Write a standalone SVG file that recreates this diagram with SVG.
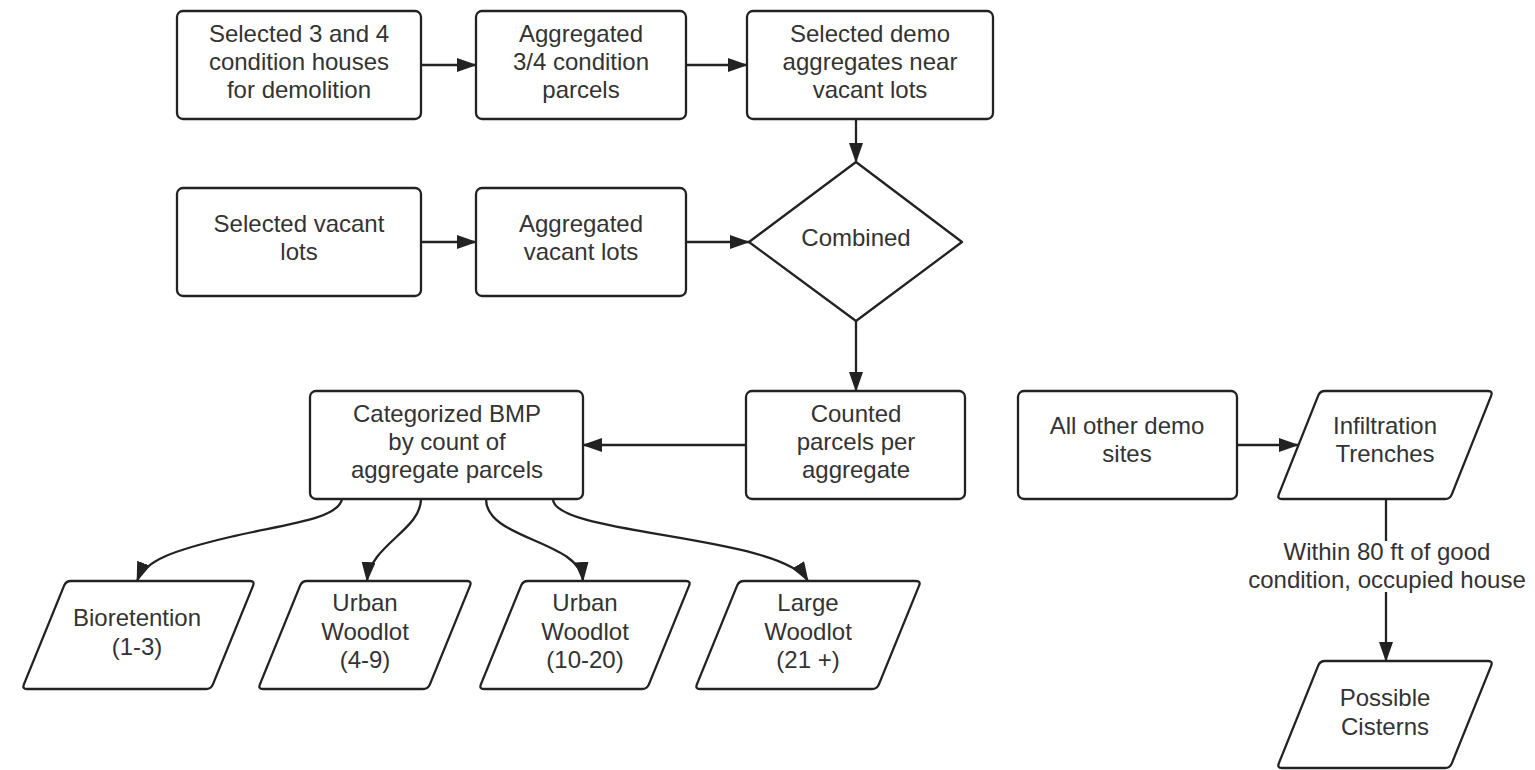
<svg xmlns="http://www.w3.org/2000/svg" width="1535" height="770" viewBox="0 0 1535 770">
<defs>
<marker id="arr" markerUnits="userSpaceOnUse" markerWidth="20" markerHeight="14" refX="19" refY="7" orient="auto">
<path d="M0,0 L20,7 L0,14 z" fill="#222"/>
</marker>
<style>
.n{fill:#fff;stroke:#222;stroke-width:2.3;stroke-linejoin:round}
.t{font-family:"Liberation Sans",Arial,sans-serif;font-size:24px;fill:#333;text-anchor:middle}
.c{fill:none;stroke:#222;stroke-width:2.3;marker-end:url(#arr)}
</style>
</defs>
<rect width="1535" height="770" fill="#fff"/>
<g id="connectors">
<line class="c" x1="421" y1="65" x2="476" y2="65"/>
<line class="c" x1="686" y1="65" x2="747" y2="65"/>
<line class="c" x1="856" y1="119" x2="856" y2="162"/>
<line class="c" x1="421" y1="242" x2="476" y2="242"/>
<line class="c" x1="686" y1="242" x2="749" y2="242"/>
<line class="c" x1="856" y1="321" x2="856" y2="391"/>
<line class="c" x1="746" y1="445" x2="583" y2="445"/>
<line class="c" x1="1237" y1="445" x2="1298" y2="445"/>
<line class="c" x1="1386" y1="499" x2="1386" y2="661"/>
<path class="c" d="M342,499 C338,520 280,525 230,537 C175,550 145,560 137,581"/>
<path class="c" d="M421,499 C421,530 370,545 367,581"/>
<path class="c" d="M486,499 C486,540 580,540 583,581"/>
<path class="c" d="M553,499 C553,535 780,535 808,581"/>
<g id="label-within">
<rect x="1246" y="541" width="283" height="51" fill="#fff"/>
<text class="t" x="1387" y="560">Within 80 ft of good</text>
<text class="t" x="1387" y="588">condition, occupied house</text>
</g>
</g>
<g id="n1"><rect class="n" x="177" y="11" width="244" height="108" rx="6"/>
<text class="t" x="299" y="42">Selected 3 and 4</text><text class="t" x="299" y="70">condition houses</text><text class="t" x="299" y="98">for demolition</text></g>
<g id="n2"><rect class="n" x="476" y="11" width="210" height="108" rx="6"/>
<text class="t" x="581" y="42">Aggregated</text><text class="t" x="581" y="70">3/4 condition</text><text class="t" x="581" y="98">parcels</text></g>
<g id="n3"><rect class="n" x="747" y="11" width="246" height="108" rx="6"/>
<text class="t" x="870" y="42">Selected demo</text><text class="t" x="870" y="70">aggregates near</text><text class="t" x="870" y="98">vacant lots</text></g>
<g id="n4"><rect class="n" x="177" y="188" width="244" height="108" rx="6"/>
<text class="t" x="299" y="232">Selected vacant</text><text class="t" x="299" y="260">lots</text></g>
<g id="n5"><rect class="n" x="476" y="188" width="210" height="108" rx="6"/>
<text class="t" x="581" y="232">Aggregated</text><text class="t" x="581" y="260">vacant lots</text></g>
<g id="combined"><polygon class="n" points="856,162 962,242 856,321 749,242"/>
<text class="t" x="856" y="246">Combined</text></g>
<g id="counted"><rect class="n" x="746" y="391" width="219" height="108" rx="6"/>
<text class="t" x="856" y="422">Counted</text><text class="t" x="856" y="450">parcels per</text><text class="t" x="856" y="478">aggregate</text></g>
<g id="categorized"><rect class="n" x="310" y="391" width="273" height="108" rx="6"/>
<text class="t" x="447" y="422">Categorized BMP</text><text class="t" x="447" y="450">by count of</text><text class="t" x="447" y="478">aggregate parcels</text></g>
<g id="bioretention"><path class="n" d="M71,581 L250,581 Q255,581 253.1,585.6 L212.9,684.4 Q211,689 206,689 L27,689 Q22,689 23.9,684.4 L64.1,585.6 Q66,581 71,581 Z"/>
<text class="t" x="137" y="626">Bioretention</text><text class="t" x="137" y="655">(1-3)</text></g>
<g id="urban1"><path class="n" d="M307,581 L467,581 Q472,581 470.1,585.6 L429.9,684.4 Q428,689 423,689 L263,689 Q258,689 259.9,684.4 L300.1,585.6 Q302,581 307,581 Z"/>
<text class="t" x="365" y="611">Urban</text><text class="t" x="365" y="640">Woodlot</text><text class="t" x="365" y="668">(4-9)</text></g>
<g id="urban2"><path class="n" d="M528,581 L686,581 Q691,581 689.1,585.6 L648.9,684.4 Q647,689 642,689 L484,689 Q479,689 480.9,684.4 L521.1,585.6 Q523,581 528,581 Z"/>
<text class="t" x="585" y="611">Urban</text><text class="t" x="585" y="640">Woodlot</text><text class="t" x="585" y="668">(10-20)</text></g>
<g id="large"><path class="n" d="M744,581 L916,581 Q921,581 919.1,585.6 L878.9,684.4 Q877,689 872,689 L700,689 Q695,689 696.9,684.4 L737.1,585.6 Q739,581 744,581 Z"/>
<text class="t" x="808" y="611">Large</text><text class="t" x="808" y="640">Woodlot</text><text class="t" x="808" y="668">(21 +)</text></g>
<g id="alldemo"><rect class="n" x="1018" y="391" width="219" height="108" rx="6"/>
<text class="t" x="1127" y="434">All other demo</text><text class="t" x="1127" y="462">sites</text></g>
<g id="infiltration"><path class="n" d="M1325,391 L1488,391 Q1493,391 1491.2,395.6 L1451.8,494.4 Q1450,499 1445,499 L1282,499 Q1277,499 1278.8,494.4 L1318.2,395.6 Q1320,391 1325,391 Z"/>
<text class="t" x="1385" y="434">Infiltration</text><text class="t" x="1385" y="462">Trenches</text></g>
<g id="cisterns"><path class="n" d="M1325,661 L1488,661 Q1493,661 1491.2,665.6 L1451.8,763.4 Q1450,768 1445,768 L1282,768 Q1277,768 1278.8,763.4 L1318.2,665.6 Q1320,661 1325,661 Z"/>
<text class="t" x="1385" y="706">Possible</text><text class="t" x="1385" y="735">Cisterns</text></g>
</svg>
